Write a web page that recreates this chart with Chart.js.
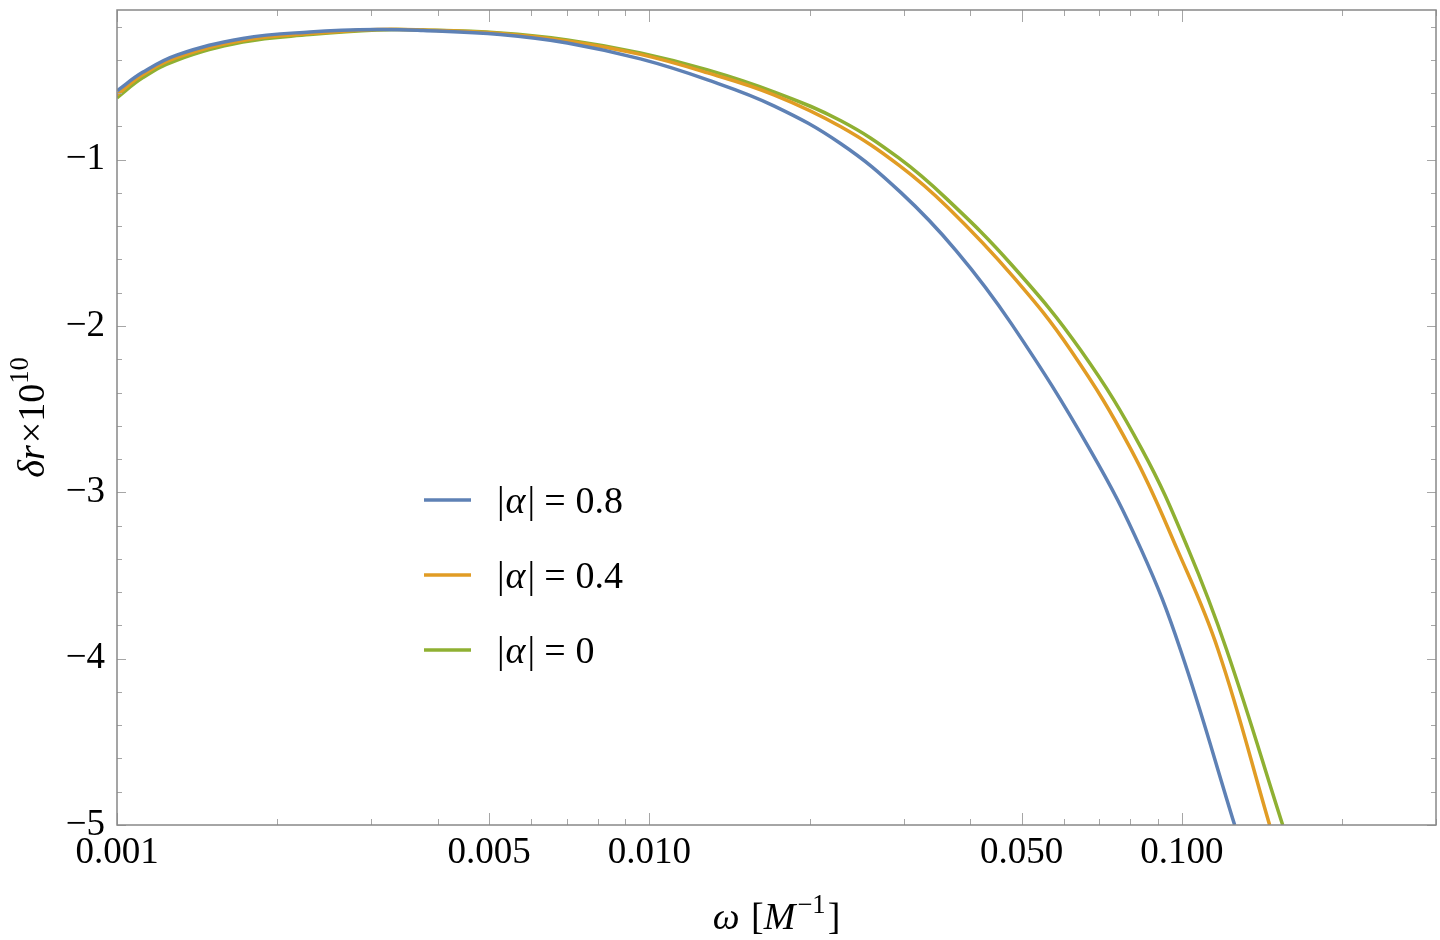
<!DOCTYPE html>
<html>
<head>
<meta charset="utf-8">
<script src="https://cdn.jsdelivr.net/npm/chart.js@4.4.0/dist/chart.umd.min.js"></script>
<style>
  html, body { margin: 0; padding: 0; background: #fff; }
</style>
</head>
<body>
<canvas id="myChart" width="1440" height="940"></canvas>
<script>
// values: omega in M^-1, delta r in units of 1e-10
const omegaA08 = [0.001, 0.001117, 0.001294, 0.001722, 0.002303, 0.003077, 0.003757, 0.005244, 0.007011, 0.009618, 0.01286, 0.01712, 0.02288, 0.02967, 0.03765, 0.04778, 0.06727, 0.0839, 0.09935, 0.1256];
const deltaA08 = [-0.586, -0.475, -0.371, -0.271, -0.232, -0.217, -0.223, -0.247, -0.298, -0.394, -0.520, -0.676, -0.904, -1.198, -1.546, -1.984, -2.746, -3.346, -3.946, -5.0];

const omegaA04 = [0.001, 0.001117, 0.001294, 0.001722, 0.002303, 0.003077, 0.003757, 0.005244, 0.007011, 0.009618, 0.01286, 0.01712, 0.02288, 0.02948, 0.03634, 0.04832, 0.06182, 0.08035, 0.09807, 0.1169, 0.1461];
const deltaA04 = [-0.610, -0.490, -0.386, -0.283, -0.242, -0.217, -0.220, -0.241, -0.286, -0.367, -0.478, -0.610, -0.802, -1.036, -1.288, -1.708, -2.146, -2.746, -3.346, -3.946, -5.0];

const omegaA0 = [0.001, 0.001117, 0.001294, 0.001722, 0.002303, 0.003077, 0.003757, 0.005244, 0.007011, 0.009618, 0.01286, 0.01712, 0.02288, 0.02934, 0.03612, 0.04801, 0.06456, 0.08426, 0.1029, 0.1213, 0.1546];
const deltaA0 = [-0.628, -0.508, -0.402, -0.293, -0.248, -0.220, -0.220, -0.238, -0.280, -0.358, -0.460, -0.592, -0.766, -0.988, -1.234, -1.636, -2.146, -2.746, -3.346, -3.946, -5.0];

const seriesLabels = ["|α| = 0.8", "|α| = 0.4", "|α| = 0"];
const seriesColors = ["#5e81b5", "#e19c24", "#8fb032"];

// axis ticks
const xMajorTicks = [0.001, 0.005, 0.01, 0.05, 0.1];
const xMajorLabels = ["0.001", "0.005", "0.010", "0.050", "0.100"];
const xMinorTicks = [0.002, 0.003, 0.004, 0.006, 0.007, 0.008, 0.009, 0.02, 0.03, 0.04, 0.06, 0.07, 0.08, 0.09, 0.2, 0.3];
const yMajorTicks = [-5, -4, -3, -2, -1];
const yMajorLabels = ["\u22125", "\u22124", "\u22123", "\u22122", "\u22121"];
const yMinorTicks = [-4.8, -4.6, -4.4, -4.2, -3.8, -3.6, -3.4, -3.2, -2.8, -2.6, -2.4, -2.2, -1.8, -1.6, -1.4, -1.2, -0.8, -0.6, -0.4, -0.2];

const FONT = "'Liberation Serif', 'Times New Roman', serif";

function toPoints(xs, ys) {
  return xs.map((x, i) => ({ x: x, y: ys[i] }));
}

// draw a row of text pieces (italic / superscript / extra gap), centred on 0
function drawRuns(ctx, runs, size, align) {
  const fontFor = r => (r.it ? "italic " : "") + (r.sup ? size * 0.7 : size) + "px " + FONT;
  let total = 0;
  runs.forEach(r => { ctx.font = fontFor(r); total += ctx.measureText(r.t).width + (r.gap || 0); });
  let x = align === "left" ? 0 : -total / 2;
  runs.forEach(r => {
    ctx.font = fontFor(r);
    ctx.fillText(r.t, x, r.sup ? -size * 0.42 : 0);
    x += ctx.measureText(r.t).width + (r.gap || 0);
  });
}

const frameTicks = {
  id: "frameTicks",
  afterDraw(chart) {
    const ctx = chart.ctx;
    const a = chart.chartArea;
    const xs = chart.scales.x;
    const ys = chart.scales.y;
    ctx.save();
    ctx.strokeStyle = "#a6a6a6";
    ctx.lineWidth = 1;
    ctx.beginPath();
    xMajorTicks.concat(xMinorTicks).forEach(v => {
      const px = Math.round(xs.getPixelForValue(v)) + 0.5;
      const len = xMajorTicks.includes(v) ? 12 : 6;
      ctx.moveTo(px, a.bottom); ctx.lineTo(px, a.bottom - len);
      ctx.moveTo(px, a.top); ctx.lineTo(px, a.top + len);
    });
    yMajorTicks.concat(yMinorTicks).forEach(v => {
      const py = Math.round(ys.getPixelForValue(v)) + 0.5;
      const len = yMajorTicks.includes(v) ? 9 : 5;
      ctx.moveTo(a.left, py); ctx.lineTo(a.left + len, py);
      ctx.moveTo(a.right, py); ctx.lineTo(a.right - len, py);
    });
    ctx.stroke();

    ctx.strokeStyle = "#888888";
    ctx.lineWidth = 1.5;
    ctx.strokeRect(a.left, a.top, a.right - a.left, a.bottom - a.top);

    // axis titles
    ctx.fillStyle = "#000";
    ctx.textBaseline = "alphabetic";
    ctx.textAlign = "left";
    ctx.save();
    ctx.translate((a.left + a.right) / 2, 929);
    drawRuns(ctx, [
      { t: "ω", it: true, gap: 2 }, { t: " [" }, { t: "M", it: true, gap: 2 }, { t: "\u22121", sup: true, gap: 2 }, { t: "]" }
    ], 38);
    ctx.restore();

    ctx.save();
    ctx.translate(44, (a.top + a.bottom) / 2);
    ctx.rotate(-Math.PI / 2);
    drawRuns(ctx, [
      { t: "δ", it: true }, { t: "r", it: true, gap: 2 }, { t: "×10" }, { t: "10", sup: true }
    ], 38);
    ctx.restore();

    // legend inside the plot
    chart.data.datasets.forEach((ds, i) => {
      const y = 500 + i * 75;
      ctx.strokeStyle = ds.borderColor;
      ctx.lineWidth = 3.5;
      ctx.beginPath();
      ctx.moveTo(424, y); ctx.lineTo(471, y);
      ctx.stroke();
      const value = ds.label.split("=")[1].trim();
      ctx.fillStyle = "#000";
      ctx.save();
      ctx.translate(497, y + 13);
      drawRuns(ctx, [
        { t: "|", gap: 1 }, { t: "α", it: true, gap: 2 }, { t: "|", gap: 9 }, { t: "=", gap: 10 }, { t: value }
      ], 38, "left");
      ctx.restore();
    });
    ctx.restore();
  }
};

const datasets = [
  toPoints(omegaA08, deltaA08),
  toPoints(omegaA04, deltaA04),
  toPoints(omegaA0, deltaA0)
].map((pts, i) => ({
  label: seriesLabels[i],
  data: pts,
  borderColor: seriesColors[i],
  backgroundColor: seriesColors[i],
  borderWidth: 3.5,
  pointRadius: 0,
  tension: 0.4,
  fill: false
}));

new Chart(document.getElementById("myChart").getContext("2d"), {
  type: "line",
  data: { datasets: datasets },
  options: {
    responsive: false,
    animation: false,
    layout: { padding: { left: 0, right: 4, top: 10, bottom: 0 } },
    plugins: {
      legend: { display: false },
      tooltip: { enabled: false }
    },
    scales: {
      x: {
        type: "logarithmic",
        min: 0.001,
        max: 0.3,
        grid: { display: false, drawTicks: false },
        border: { display: false },
        afterBuildTicks: scale => {
          scale.ticks = xMajorTicks.map(v => ({ value: v }));
        },
        afterFit: scale => {
          scale.height = 115;
          scale.paddingLeft = 0;
          scale.paddingRight = 0;
        },
        ticks: {
          autoSkip: false,
          maxRotation: 0,
          padding: 6,
          color: "#000",
          font: { family: FONT, size: 37 },
          callback: (v) => {
            const i = xMajorTicks.findIndex(t => Math.abs(t - v) < 1e-9);
            return i >= 0 ? xMajorLabels[i] : "";
          }
        }
      },
      y: {
        type: "linear",
        min: -5,
        max: -0.1,
        grid: { display: false, drawTicks: false },
        border: { display: false },
        afterBuildTicks: scale => {
          scale.ticks = yMajorTicks.map(v => ({ value: v }));
        },
        afterFit: scale => {
          scale.width = 117;
          scale.paddingTop = 0;
          scale.paddingBottom = 0;
        },
        ticks: {
          autoSkip: false,
          padding: 12,
          color: "#000",
          font: { family: FONT, size: 37 },
          callback: (v) => {
            const i = yMajorTicks.findIndex(t => Math.abs(t - v) < 1e-9);
            return i >= 0 ? yMajorLabels[i] : "";
          }
        }
      }
    }
  },
  plugins: [frameTicks]
});
</script>
</body>
</html>
